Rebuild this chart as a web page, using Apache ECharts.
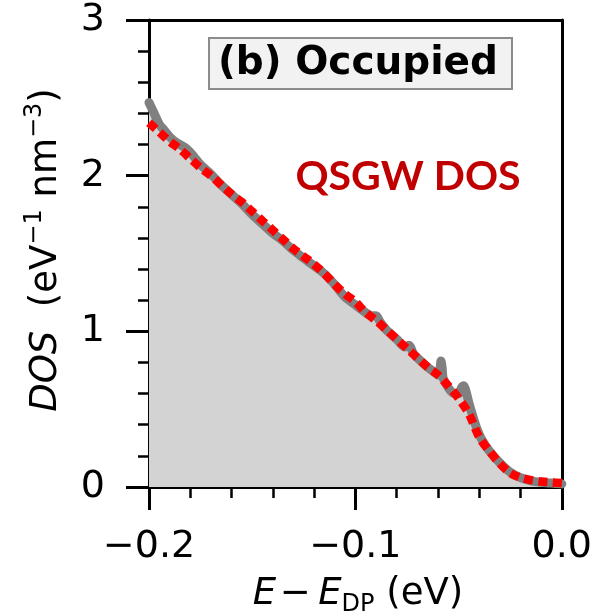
<!DOCTYPE html>
<html>
<head>
<meta charset="utf-8">
<script src="https://cdn.jsdelivr.net/npm/echarts@6/dist/echarts.min.js"></script>
<style>
  html, body { margin: 0; padding: 0; background: #fff; }
  #chart { width: 595px; height: 616px; }
</style>
</head>
<body>
<div id="chart"></div>
<script>
// Occupied-state density of states near the Dirac point (QSGW)
const energyDos = [
  -0.2000, -0.1975, -0.1950, -0.1925, -0.1900, -0.1875, -0.1850, -0.1825, -0.1800, -0.1775,
  -0.1750, -0.1700, -0.1650, -0.1600, -0.1550, -0.1500, -0.1450, -0.1400, -0.1350, -0.1300,
  -0.1250, -0.1200, -0.1150, -0.1100, -0.1050, -0.1000, -0.0950, -0.0920, -0.0900, -0.0880,
  -0.0850, -0.0800, -0.0760, -0.0740, -0.0720, -0.0700, -0.0650, -0.0620, -0.0600, -0.0590,
  -0.0585, -0.0580, -0.0575, -0.0560, -0.0540, -0.0520, -0.0500, -0.0485, -0.0475, -0.0465,
  -0.0450, -0.0430, -0.0410, -0.0390, -0.0350, -0.0300, -0.0250, -0.0200, -0.0150, -0.0100,
  -0.0050, 0.0000
];
const dosValues = [
  2.47, 2.40, 2.33, 2.29, 2.25, 2.22, 2.20, 2.18, 2.15, 2.11,
  2.07, 2.01, 1.94, 1.88, 1.82, 1.75, 1.69, 1.63, 1.58, 1.52,
  1.47, 1.42, 1.37, 1.30, 1.22, 1.17, 1.12, 1.10, 1.10, 1.06,
  1.01, 0.95, 0.90, 0.91, 0.86, 0.83, 0.77, 0.74, 0.72, 0.76,
  0.81, 0.77, 0.70, 0.66, 0.62, 0.60, 0.60, 0.64, 0.65, 0.62,
  0.54, 0.45, 0.37, 0.31, 0.23, 0.155, 0.095, 0.06, 0.04, 0.03,
  0.025, 0.02
];

// Smooth fit drawn as the dotted curve
const energyFit = [
  -0.200, -0.195, -0.190, -0.185, -0.180, -0.175, -0.170, -0.165, -0.160, -0.155,
  -0.150, -0.145, -0.140, -0.135, -0.130, -0.125, -0.120, -0.115, -0.110, -0.105,
  -0.100, -0.095, -0.090, -0.085, -0.080, -0.075, -0.070, -0.065, -0.060, -0.055,
  -0.050, -0.045, -0.040, -0.035, -0.030, -0.025, -0.020, -0.015, -0.010, -0.005,
  0.000
];
const fitValues = [
  2.34, 2.28, 2.22, 2.17, 2.11, 2.05, 2.00, 1.94, 1.88, 1.83,
  1.77, 1.71, 1.65, 1.59, 1.53, 1.48, 1.43, 1.37, 1.30, 1.24,
  1.19, 1.12, 1.07, 1.01, 0.95, 0.89, 0.83, 0.77, 0.72, 0.65,
  0.57, 0.47, 0.32, 0.23, 0.15, 0.09, 0.06, 0.045, 0.035, 0.03,
  0.025
];

const xTicks = [-0.2, -0.1, 0.0];
const yTicks = [0, 1, 2, 3];

const FONT = 'DejaVu Sans';
const pairs = (xs, ys) => xs.map((x, i) => [x, ys[i]]);

const spine = { show: true, onZero: false, lineStyle: { color: '#000', width: 3 } };
const majorTick = { show: true, inside: false, length: 23, lineStyle: { color: '#000', width: 3 } };
const minorTick = { show: true, splitNumber: 5, length: 11, lineStyle: { color: '#000', width: 2.5 } };

// bare axes that only close the frame on the top and right
const frameAxis = (extra) => Object.assign({
  type: 'value',
  axisLine: spine,
  axisTick: { show: false },
  minorTick: { show: false },
  axisLabel: { show: false },
  splitLine: { show: false }
}, extra);

const chart = echarts.init(document.getElementById('chart'), null, { renderer: 'canvas' });

chart.setOption({
  animation: false,
  backgroundColor: '#ffffff',
  grid: { left: 149, right: 32, top: 20, bottom: 129, show: false },
  xAxis: [
    {
      type: 'value', position: 'bottom',
      min: xTicks[0], max: xTicks[xTicks.length - 1], interval: 0.1,
      axisLine: spine, axisTick: majorTick, minorTick: minorTick,
      splitLine: { show: false },
      axisLabel: {
        margin: 41, color: '#000', fontFamily: FONT, fontSize: 38,
        formatter: v => (v < 0 ? '\u2212' : '') + Math.abs(v).toFixed(1)
      }
    },
    frameAxis({ position: 'top', min: xTicks[0], max: xTicks[xTicks.length - 1] })
  ],
  yAxis: [
    {
      type: 'value', position: 'left',
      min: yTicks[0], max: yTicks[yTicks.length - 1], interval: 1,
      axisLine: spine, axisTick: majorTick, minorTick: minorTick,
      splitLine: { show: false },
      axisLabel: {
        margin: 44, color: '#000', fontFamily: FONT, fontSize: 38,
        formatter: v => String(v)
      }
    },
    frameAxis({ position: 'right', min: yTicks[0], max: yTicks[yTicks.length - 1] })
  ],
  series: [
    {
      name: 'DOS',
      type: 'line',
      data: pairs(energyDos, dosValues),
      showSymbol: false,
      smooth: 0.3,
      lineStyle: { color: '#808080', width: 9, cap: 'round', join: 'round' },
      areaStyle: { color: '#d3d3d3', opacity: 1 },
      z: 2
    },
    {
      name: 'Fit',
      type: 'line',
      data: pairs(energyFit, fitValues),
      showSymbol: false,
      smooth: 0.3,
      lineStyle: { color: '#ff0000', width: 8.5, type: [9, 5.5], cap: 'butt' },
      z: 3
    }
  ],
  graphic: [
    {
      type: 'rect',
      shape: { x: 209, y: 38, width: 303, height: 51 },
      style: { fill: '#f2f2f2', stroke: '#8c8c8c', lineWidth: 2 },
      z: 10
    },
    {
      type: 'text',
      x: 358, y: 64,
      style: {
        text: '(b) Occupied',
        font: 'bold 39px "DejaVu Sans"',
        fill: '#000',
        align: 'center', verticalAlign: 'middle'
      },
      z: 11
    },
    {
      type: 'text',
      x: 408, y: 177,
      style: {
        text: 'QSGW DOS',
        font: 'bold 41px Lato',
        fill: '#c00000',
        align: 'center', verticalAlign: 'middle'
      },
      z: 11
    },
    {
      type: 'text',
      x: 358, y: 594,
      style: {
        text: '{i|E}\u200a\u2212\u2009{i|E}{sub|DP} (eV)',
        font: '37px "DejaVu Sans"',
        fill: '#000',
        align: 'center', verticalAlign: 'middle',
        rich: {
          i: { fontFamily: FONT, fontStyle: 'italic', fontSize: 37, lineHeight: 46 },
          sub: { fontFamily: FONT, fontSize: 24, lineHeight: 34, verticalAlign: 'bottom' }
        }
      },
      z: 11
    },
    {
      type: 'text',
      x: 46, y: 250,
      rotation: Math.PI / 2,
      style: {
        text: '{i|DOS}  (eV{sup|\u22121} nm{sup|\u22123})',
        font: '37px "DejaVu Sans"',
        fill: '#000',
        align: 'center', verticalAlign: 'middle',
        rich: {
          i: { fontFamily: FONT, fontStyle: 'italic', fontSize: 37, lineHeight: 46 },
          sup: { fontFamily: FONT, fontSize: 24, lineHeight: 30, verticalAlign: 'top' }
        }
      },
      z: 11
    }
  ]
});
</script>
</body>
</html>
